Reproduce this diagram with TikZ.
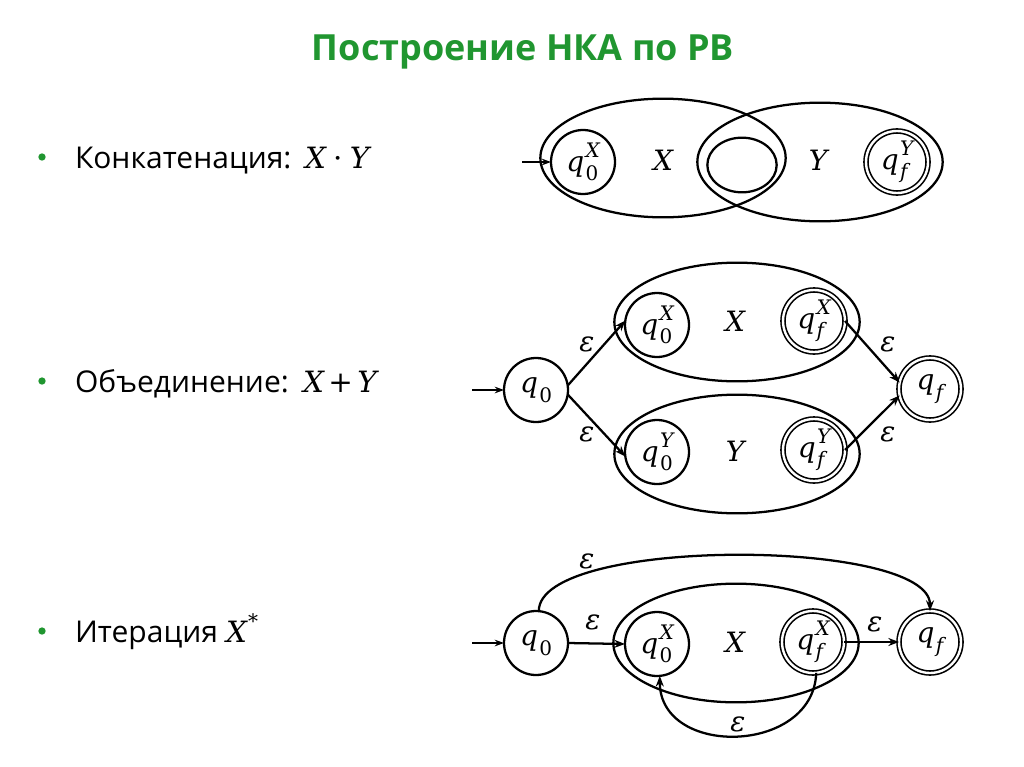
\documentclass[tikz,border=0pt]{standalone}
\usepackage{fontspec}
\setmainfont{Open Sans}
\newfontfamily\mf{DejaVu Serif}
\usetikzlibrary{shapes.geometric,arrows.meta}
\definecolor{titlegreen}{RGB}{32,150,48}
\newcommand{\mi}[1]{{\mf\itshape #1}}
\newcommand{\smallm}{\fontsize{15}{15}\selectfont}
\newcommand{\qst}[2]{{\mf\itshape q\kern1pt\ooalign{\raisebox{0.48em}{\smallm #2}\cr\raisebox{-0.34em}{\smallm #1}\cr}}}
\newcommand{\qzero}{{\mf\itshape q\kern1pt\raisebox{-0.34em}{\smallm\upshape 0}}}
\newcommand{\qfin}{{\mf\itshape q\kern1pt\raisebox{-0.34em}{\smallm f}}}
\newcommand{\eps}{{\mf\itshape ε}}
\begin{document}
\begin{tikzpicture}[x=0.75pt,y=-0.75pt,
  every node/.style={inner sep=0pt,outer sep=0pt},
  st/.style={circle,draw,line width=1.7pt,minimum size=48pt,font=\fontsize{21}{25}\selectfont},
  acc/.style={circle,draw,line width=1.2pt,double,double distance=1.8pt,minimum size=46.5pt,font=\fontsize{21}{25}\selectfont},
  grp/.style={ellipse,draw,line width=1.7pt,minimum width=184pt,minimum height=89pt},
  arr/.style={line width=1.7pt,-{Stealth[length=8pt,width=6pt]}},
  inarr/.style={line width=1.1pt,-{Stealth[length=7pt,width=5pt]}},
  lab/.style={font=\fontsize{21}{25}\selectfont},
  body/.style={font=\fontsize{22.5}{27}\selectfont,anchor=base west},
  bm/.style={font=\fontsize{22}{26}\selectfont,anchor=base west},
  bdot/.style={circle,fill=titlegreen,minimum size=5.5pt}]
\fill[white] (0,0) rectangle (1024,767);
\useasboundingbox (0,0) rectangle (1024,767);

% title
\node[anchor=base,font=\fontsize{27}{32}\selectfont\bfseries,text=titlegreen] (title) at (523,61) {Построение НКА по РВ};

% bullets
\node[bdot] (b1) at (42,157) {};
\node[body] (t1) at (75,168) {Конкатенация:};
\node[bm] (m1) at (305,168) {\mi{X}\hspace{0.25em}{\mf ·}\hspace{0.25em}\mi{Y}};
\node[bdot] (b2) at (42,381) {};
\node[body] (t2) at (75,392) {Объединение:};
\node[bm] (m2) at (303,392) {\mi{X}\hspace{0.15em}{\mf +}\hspace{0.15em}\mi{Y}};
\node[bdot] (b3) at (42,631) {};
\node[body] (t3) at (75,642) {Итерация};
\node[bm] (m3) at (226,642) {\mi{X}\kern1pt\raisebox{0.45em}{\smallm\mf *}};

% ---- concatenation
\node[grp] (cEX) at (663,158) {};
\node[grp] (cEY) at (820,162) {};
\node[st] (cq0) at (583,162) {\qst{\upshape 0}{X}};
\node[ellipse,draw,line width=1.7pt,minimum width=52pt,minimum height=41pt] (cmid) at (742,165) {};
\node[acc] (cqf) at (897,162) {\qst{f}{Y}};
\node[lab] (cX) at (663,160) {\mi{X}};
\node[lab] (cY) at (818,160) {\mi{Y}};
\coordinate (cin) at (522,162);
\draw[inarr] (cin) -- (cq0.west);

% ---- union
\node[grp] (uE1) at (737,322) {};
\node[grp] (uE2) at (737,454) {};
\node[st] (uq0) at (536,390) {\qzero};
\node[st] (uq0X) at (657,325) {\qst{\upshape 0}{X}};
\node[acc] (uqfX) at (814,321) {\qst{f}{X}};
\node[st] (uq0Y) at (657,452) {\qst{\upshape 0}{Y}};
\node[acc] (uqfY) at (814,450) {\qst{f}{Y}};
\node[acc] (uqf) at (930,389) {\qfin};
\node[lab] (uX) at (735,321) {\mi{X}};
\node[lab] (uY) at (735,451) {\mi{Y}};
\coordinate (uin) at (472,390);
\draw[inarr] (uin) -- (uq0.west);
\draw[arr] (uq0.8) -- (uq0X.172);
\draw[arr] (uq0.-8) -- (uq0Y.188);
\draw[arr] (uqfX.east) -- (uqf.168);
\draw[arr] (uqfY.east) -- (uqf.192);
\node[lab] (ue1) at (587,344) {\eps};
\node[lab] (ue2) at (587,434) {\eps};
\node[lab] (ue3) at (888,344) {\eps};
\node[lab] (ue4) at (888,434) {\eps};

% ---- iteration
\node[grp] (iE) at (736,643) {};
\node[st] (iq0) at (536,643) {\qzero};
\node[st] (iq0X) at (657,644) {\qst{\upshape 0}{X}};
\node[acc] (iqfX) at (813,642) {\qst{f}{X}};
\node[acc] (iqf) at (930,642) {\qfin};
\node[lab] (iX) at (735,642) {\mi{X}};
\coordinate (iin) at (472,643);
\draw[inarr] (iin) -- (iq0.west);
\draw[arr] (iq0.east) -- (iq0X.west);
\draw[arr] (iqfX.east) -- (iqf.west);
\draw[arr] (iq0.85) .. controls +(0,-75) and +(0,-73) .. (iqf.north);
\draw[arr] (iqfX.-84) .. controls +(-3,82) and +(0,82) .. (iq0X.-85);
\node[lab] (ie1) at (587,561) {\eps};
\node[lab] (ie2) at (593,622) {\eps};
\node[lab] (ie3) at (875,624) {\eps};
\node[lab] (ie4) at (738,724) {\eps};
\end{tikzpicture}
\end{document}
